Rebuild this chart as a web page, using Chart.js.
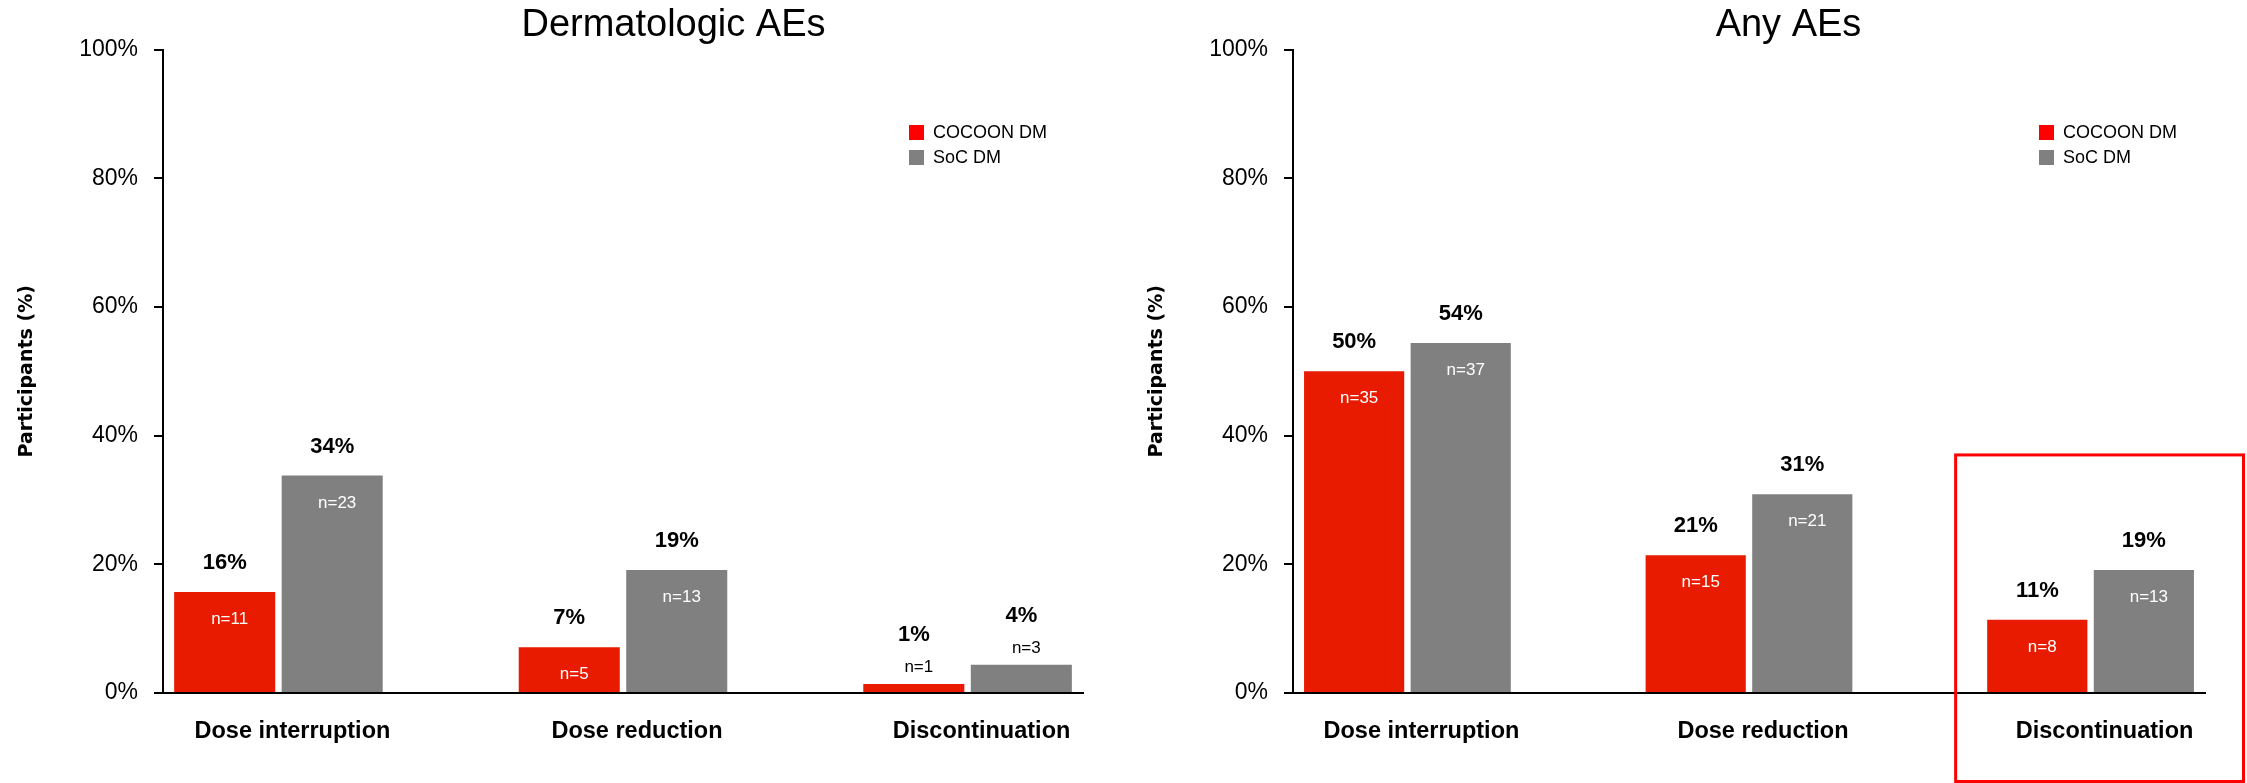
<!DOCTYPE html>
<html>
<head>
<meta charset="utf-8">
<title>Dose modifications due to AEs</title>
<script src="https://cdn.jsdelivr.net/npm/chart.js@4/dist/chart.umd.min.js"></script>
<style>
  html, body { margin: 0; padding: 0; background: #fff; }
  #wrap { position: relative; width: 2247px; height: 783px; overflow: hidden; }
  canvas { position: absolute; top: 0; }
</style>
</head>
<body>
<div id="wrap">
  <canvas id="chart-derm" width="1130" height="783" style="left:0"></canvas>
  <canvas id="chart-any" width="1117" height="783" style="left:1130px"></canvas>
</div>
<script>
// --- data ---
const categories = ['Dose interruption', 'Dose reduction', 'Discontinuation'];
const seriesNames = ['COCOON DM', 'SoC DM'];

// Dermatologic AEs: % of participants and counts
const dermCocoon = [15.7, 7.1, 1.4];
const dermSoc = [33.8, 19.1, 4.4];
const dermCocoonN = [11, 5, 1];
const dermSocN = [23, 13, 3];

// Any AEs
const anyCocoon = [50.0, 21.4, 11.4];
const anySoc = [54.4, 30.9, 19.1];
const anyCocoonN = [35, 15, 8];
const anySocN = [37, 21, 13];

const yMax = 100;
const yStep = 20;

// highlighted category block on the right panel (from category position, from % value)
const highlightFrom = 1.605;
const highlightTop = 37;

const barRed = '#E81A00';
const legendRed = '#FF0000';
const barGray = '#808080';
const FONT = "'Liberation Sans', Arial, sans-serif";

Chart.defaults.font.family = FONT;
Chart.defaults.color = '#000';

// bold % above the bar, "n=" inside (white) or above (black) when bar is too short
const barLabels = {
  id: 'barLabels',
  afterDatasetsDraw(chart) {
    const ctx = chart.ctx;
    ctx.save();
    ctx.textAlign = 'center';
    ctx.textBaseline = 'alphabetic';
    chart.data.datasets.forEach((ds, di) => {
      const meta = chart.getDatasetMeta(di);
      meta.data.forEach((bar, i) => {
        const v = ds.data[i].y;
        const n = ds.counts[i];
        const inside = v >= 5;
        ctx.font = 'bold 22px ' + FONT;
        ctx.fillStyle = '#000';
        ctx.fillText(Math.round(v) + '%', bar.x, bar.y - (inside ? 23 : 43));
        ctx.font = '17px ' + FONT;
        ctx.fillStyle = inside ? '#fff' : '#000';
        ctx.fillText('n=' + n, bar.x + 5, inside ? bar.y + 32 : bar.y - 12);
      });
    });
    ctx.restore();
  }
};

// title and legend placement inside the panel
const panelLayout = {
  id: 'panelLayout',
  afterLayout(chart, args, opts) {
    const t = chart.titleBlock;
    t.left += opts.titleShift;
    t.right += opts.titleShift;
    const lg = chart.legend;
    const a = chart.chartArea;
    lg.left = a.left + 739;
    lg.top = a.top + 67;
  }
};

const highlightBox = {
  id: 'highlightBox',
  afterDraw(chart) {
    const ctx = chart.ctx;
    const x0 = chart.scales.x.getPixelForValue(highlightFrom);
    const y0 = chart.scales.y.getPixelForValue(highlightTop);
    ctx.save();
    ctx.strokeStyle = '#FF0000';
    ctx.lineWidth = 3;
    ctx.strokeRect(x0, y0, chart.width - 3.5 - x0, chart.height - 1.5 - y0);
    ctx.restore();
  }
};

function makeChart(canvasId, title, cocoon, soc, cocoonN, socN, padRight, titleShift, extraPlugins) {
  const ctx = document.getElementById(canvasId);
  return new Chart(ctx, {
    type: 'bar',
    data: {
      datasets: [{
        label: seriesNames[0],
        data: cocoon.map((v, i) => ({ x: i, y: v })),
        counts: cocoonN,
        backgroundColor: barRed,
        borderWidth: 0,
        categoryPercentage: 0.624,
        barPercentage: 0.94
      }, {
        label: seriesNames[1],
        data: soc.map((v, i) => ({ x: i, y: v })),
        counts: socN,
        backgroundColor: barGray,
        borderWidth: 0,
        categoryPercentage: 0.624,
        barPercentage: 0.94
      }]
    },
    options: {
      responsive: false,
      animation: false,
      events: [],
      layout: { padding: { left: 0, right: padRight, top: 0, bottom: 0 } },
      scales: {
        x: {
          type: 'linear',
          min: -0.335,
          max: 2.335,
          offset: false,
          bounds: 'data',
          grid: { display: false, drawTicks: false, offset: false },
          border: { display: true, color: '#000', width: 2 },
          afterBuildTicks: (axis) => { axis.ticks = categories.map((c, i) => ({ value: i })); },
          afterFit: (scale) => { scale.height = 90; },
          ticks: {
            autoSkip: false,
            maxRotation: 0,
            padding: 24,
            labelOffset: 14,
            color: '#000',
            font: { size: 23.5, weight: 'bold' },
            callback: (v) => categories[v]
          }
        },
        y: {
          min: 0,
          max: yMax,
          afterFit: (scale) => { scale.width = 163; },
          grid: { drawOnChartArea: false, drawTicks: true, tickLength: 9, color: '#000', lineWidth: 2 },
          border: { display: true, color: '#000', width: 2 },
          ticks: {
            stepSize: yStep,
            padding: 16,
            color: '#000',
            font: { size: 23 },
            callback: (v) => v + '%'
          },
          title: {
            display: true,
            text: 'Participants (%)',
            color: '#000',
            padding: { top: 16, bottom: 0 },
            font: { family: "'DejaVu Sans', Verdana, sans-serif", size: 19, weight: 'bold' }
          }
        }
      },
      plugins: {
        title: {
          display: true,
          text: title,
          color: '#000',
          padding: { top: 3, bottom: 1 },
          font: { size: 38, weight: 'normal' }
        },
        legend: {
          position: 'chartArea',
          align: 'start',
          labels: {
            boxWidth: 15,
            boxHeight: 15,
            padding: 7,
            color: '#000',
            font: { size: 18 },
            generateLabels: () => seriesNames.map((name, i) => ({
              text: name,
              fillStyle: i === 0 ? legendRed : barGray,
              strokeStyle: 'rgba(0,0,0,0)',
              lineWidth: 0,
              hidden: false,
              datasetIndex: i
            }))
          }
        },
        tooltip: { enabled: false },
        panelLayout: { titleShift: titleShift }
      }
    },
    plugins: [barLabels, panelLayout].concat(extraPlugins)
  });
}

makeChart('chart-derm', 'Dermatologic AEs', dermCocoon, dermSoc, dermCocoonN, dermSocN, 47, 132, []);
makeChart('chart-any', 'Any AEs', anyCocoon, anySoc, anyCocoonN, anySocN, 42, 121, [highlightBox]);
</script>
</body>
</html>
